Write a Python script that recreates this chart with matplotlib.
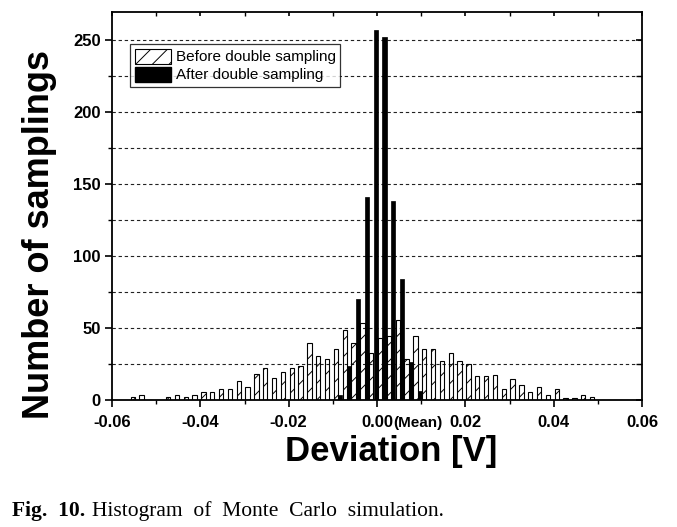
import numpy as np
import matplotlib
matplotlib.use("Agg")
import matplotlib.pyplot as plt
from matplotlib.patches import Patch

# ---- data ----
bin_centers = [-0.055, -0.053, -0.051, -0.049, -0.047, -0.045, -0.043, -0.041, -0.039, -0.037,
               -0.035, -0.033, -0.031, -0.029, -0.027, -0.025, -0.023, -0.021, -0.019, -0.017,
               -0.015, -0.013, -0.011, -0.009, -0.007, -0.005, -0.003, -0.001, 0.001, 0.003,
               0.005, 0.007, 0.009, 0.011, 0.013, 0.015, 0.017, 0.019, 0.021, 0.023,
               0.025, 0.027, 0.029, 0.031, 0.033, 0.035, 0.037, 0.039, 0.041, 0.043,
               0.045, 0.047, 0.049]
before_counts = [2, 3, 0, 0, 2, 3, 2, 3, 5, 5,
                 7, 7, 13, 9, 18, 22, 15, 19, 22, 23,
                 39, 30, 28, 35, 48, 39, 53, 32, 43, 44,
                 55, 28, 44, 35, 35, 27, 32, 27, 25, 16,
                 16, 17, 7, 14, 10, 5, 9, 3, 7, 1,
                 1, 3, 2]
after_counts = [0, 0, 0, 0, 0, 0, 0, 0, 0, 0,
                0, 0, 0, 0, 0, 0, 0, 0, 0, 0,
                0, 0, 0, 3, 23, 70, 141, 257, 252, 138,
                84, 26, 6, 0, 0, 0, 0, 0, 0, 0,
                0, 0, 0, 0, 0, 0, 0, 0, 0, 0,
                0, 0, 0]
xtick_values = [-0.06, -0.04, -0.02, 0.00, 0.02, 0.04, 0.06]
xtick_labels = ["-0.06", "-0.04", "-0.02", "0.00", "0.02", "0.04", "0.06"]
ytick_values = [0, 50, 100, 150, 200, 250]
legend_labels = ["Before double sampling", "After double sampling"]

SANS = ["Liberation Sans", "DejaVu Sans"]
SERIF = ["Liberation Serif", "DejaVu Serif"]
plt.rcParams['font.family'] = SANS
plt.rcParams['hatch.linewidth'] = 0.7

W, H = 677, 527
fig = plt.figure(figsize=(W / 100, H / 100), dpi=100)
ax = fig.add_axes([112 / W, 1 - 399.5 / H, (642 - 112) / W, (399.5 - 12) / H])

centers = np.array(bin_centers)
ax.bar(centers - 0.0003, before_counts, width=0.00095, facecolor='none',
       edgecolor='black', hatch='//', linewidth=0.8, zorder=3)
ax.bar(centers + 0.0007, after_counts, width=0.00095, color='black',
       edgecolor='black', linewidth=0.5, zorder=3)

ax.set_xlim(-0.06, 0.06)
ax.set_ylim(0, 269.5)

ax.set_xticks(xtick_values)
ax.set_xticklabels(xtick_labels)
ax.set_xticks([-0.05, -0.03, -0.01, 0.01, 0.03, 0.05], minor=True)
ax.set_yticks(ytick_values)
ax.set_yticklabels([str(v) for v in ytick_values])
ax.set_yticks([25, 75, 125, 175, 225], minor=True)

for lab in ax.get_xticklabels() + ax.get_yticklabels():
    lab.set_fontweight('bold')
    lab.set_fontsize(12)

ax.tick_params(axis='x', which='major', direction='out', length=5, width=1.2, pad=6)
ax.tick_params(axis='x', which='minor', direction='out', length=3, width=1.0)
ax.tick_params(axis='x', which='both', top=True)
ax.tick_params(axis='y', which='major', direction='out', length=5, width=1.2, pad=3)
ax.tick_params(axis='y', which='minor', direction='out', length=3, width=1.0)
ax.tick_params(axis='y', which='both', right=True)

# top/right ticks point inward
for t in ax.xaxis.get_major_ticks() + ax.xaxis.get_minor_ticks():
    t.tick2line.set_marker(3)
    t.tick2line.set_markersize(3)
for t in ax.yaxis.get_major_ticks() + ax.yaxis.get_minor_ticks():
    t.tick2line.set_marker(0)
    t.tick2line.set_markersize(4)

for s in ax.spines.values():
    s.set_linewidth(1.3)

ax.yaxis.grid(True, which='both', color='#222222', linestyle=(0, (3, 2.5)),
              linewidth=0.8, zorder=1)
ax.set_axisbelow(True)

handles = [Patch(facecolor='white', edgecolor='black', hatch='//', linewidth=0.8),
           Patch(facecolor='black', edgecolor='black')]
leg = ax.legend(handles, legend_labels, loc='upper left',
                bbox_to_anchor=(18 / 530, (399.5 - 44) / 387.5), borderaxespad=0,
                fontsize=11, handlelength=2.4, handleheight=1.15, handletextpad=0.3,
                labelspacing=0.15, borderpad=0.3, frameon=True, fancybox=False)
leg.get_frame().set_edgecolor('black')
leg.get_frame().set_linewidth(0.9)

fig.text(393 / W, 1 - 422.5 / H, "(Mean)", fontsize=11, fontweight='bold',
         ha='left', va='center')

fig.text(40 / W, 1 - 234 / H, "Number of samplings", rotation=90, fontsize=26,
         fontweight='bold', ha='center', va='center')
fig.text(391 / W, 1 - 452 / H, "Deviation [V]", fontsize=25, fontweight='bold',
         ha='center', va='center')

fig.text(11.7 / W, 1 - 516 / H, "Fig.  10.", fontsize=15.5, fontweight='bold',
         family=SERIF, ha='left', va='baseline')
fig.text(91.7 / W, 1 - 516 / H, "Histogram  of  Monte  Carlo  simulation.",
         fontsize=15.5, family=SERIF, ha='left', va='baseline')

fig.savefig("out.png", dpi=100)
